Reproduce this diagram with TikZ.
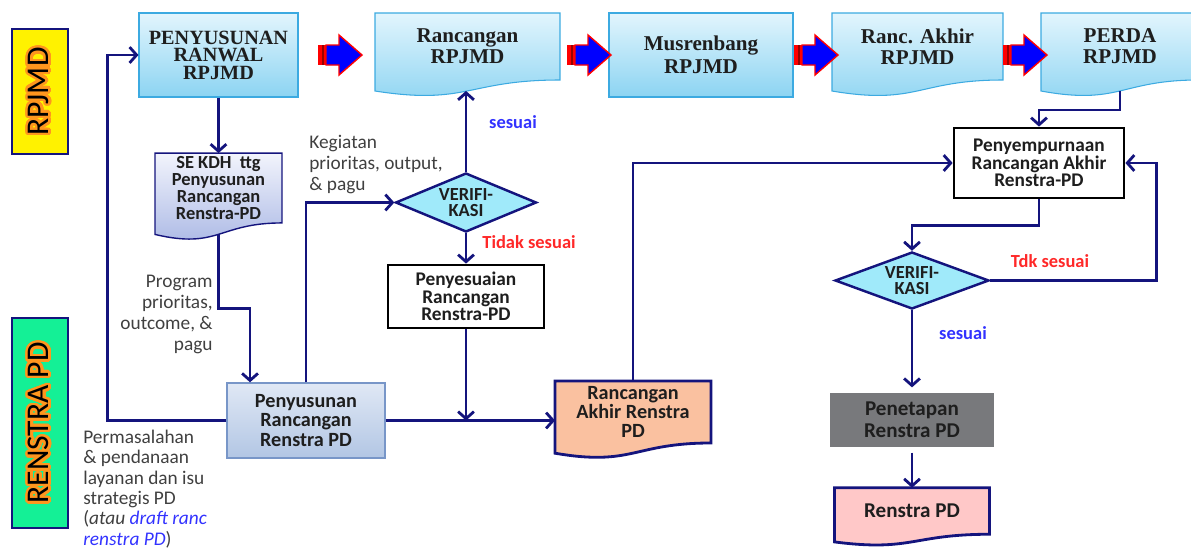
\documentclass[tikz,border=0pt]{standalone}
\usepackage{fontspec}
\setmainfont{Carlito}
\newfontfamily\stagefont{Liberation Serif}
\usepackage[copies]{contour}
\contourlength{1.4pt}
\contournumber{32}
\usetikzlibrary{arrows.meta,shapes.geometric,calc,backgrounds,shadows}

\definecolor{navyline}{RGB}{20,20,125}
\definecolor{skytop}{RGB}{226,245,253}
\definecolor{skybot}{RGB}{140,212,242}
\definecolor{skyedge}{RGB}{60,170,225}
\definecolor{lavtop}{RGB}{242,244,252}
\definecolor{lavbot}{RGB}{168,182,228}
\definecolor{steeltop}{RGB}{224,232,245}
\definecolor{steelbot}{RGB}{178,198,228}
\definecolor{steeledge}{RGB}{120,150,200}
\definecolor{peach}{RGB}{250,193,160}
\definecolor{rosefill}{RGB}{255,200,200}
\definecolor{penegray}{RGB}{120,121,124}
\definecolor{cyanfill}{RGB}{160,234,250}
\definecolor{labelgreen}{RGB}{20,240,150}
\definecolor{glow}{RGB}{255,150,30}
\definecolor{textdark}{RGB}{30,30,30}
\definecolor{notegray}{RGB}{64,64,64}
\definecolor{okblue}{RGB}{50,50,255}
\definecolor{nored}{RGB}{255,40,40}

\tikzset{
  flow/.style={draw=navyline,line width=1.6pt,-{Straight Barb[length=4pt,width=9pt]}},
  sidebox/.style={rectangle,draw=navyline,line width=0.8pt,rotate=90,minimum height=1.12cm,
    font=\fontsize{18}{20}\selectfont,text=black},
  stagebox/.style={rectangle,draw=skyedge,line width=0.6pt,top color=skytop,bottom color=skybot,
    minimum height=1.68cm,inner sep=2pt,align=center,text=textdark,
    font=\stagefont\bfseries\fontsize{12}{12}\selectfont},
  stagedoc/.style={rectangle,minimum height=1.34cm,inner sep=2pt,outer sep=0pt,align=center,
    text=textdark,font=\stagefont\bfseries\fontsize{12}{12}\selectfont},
  notedoc/.style={rectangle,inner sep=2pt,outer sep=0pt,align=center,text=textdark,
    font=\bfseries\fontsize{11.5}{11}\selectfont},
  planbox/.style={rectangle,draw=steeledge,line width=0.8pt,top color=steeltop,bottom color=steelbot,
    align=center,text=textdark,font=\bfseries\fontsize{11.5}{11}\selectfont},
  fixbox/.style={rectangle,draw=black,line width=1.6pt,fill=white,align=center,text=textdark,
    font=\bfseries\fontsize{11}{9.8}\selectfont},
  checkbox/.style={diamond,draw=navyline,line width=1.4pt,fill=cyanfill,inner sep=0pt,align=center,
    text=textdark,font=\bfseries\fontsize{10.5}{9}\selectfont},
  note/.style={inner sep=0pt,text=notegray,font=\fontsize{11}{12}\selectfont},
  oktext/.style={text=okblue,font=\bfseries\fontsize{10.5}{12}\selectfont},
  notext/.style={text=nored,font=\bfseries\fontsize{10.5}{12}\selectfont}
}

% document shape drawn round a node, wave below its south side
\newcommand{\docoutline}[2]{%
  \draw[#2] let \p1=(#1.north), \p2=(#1.south), \n1={(\y1-\y2)/0.802} in
    (#1.north west) -- (#1.north east) -- (#1.south east)
    .. controls (#1.south) and ([yshift=-0.305*\n1]#1.south) .. ([yshift=-0.132*\n1]#1.south west) -- cycle;
  \path let \p1=(#1.north), \p2=(#1.south), \n1={(\y1-\y2)/0.802} in
    ([yshift=-0.131*\n1]#1.south) coordinate (#1-wave);}

\begin{document}
\begin{tikzpicture}[x=0.02cm,y=-0.02cm]
\useasboundingbox (0,0) rectangle (1191,552);

% side labels
\node[sidebox,fill=yellow,minimum width=2.5cm] (rpjmdlab) at (40,91.5) {\contour{glow}{RPJMD}};
\node[sidebox,fill=labelgreen,minimum width=4.2cm] (renstralab) at (40,423) {\contour{glow}{RENSTRA PD}};

% RPJMD row
\node[stagebox,minimum width=3.18cm,font=\stagefont\bfseries\fontsize{11.5}{10}\selectfont] (ranwal) at (218.5,55) {PENYUSUNAN\\RANWAL\\RPJMD};
\node[stagedoc,minimum width=3.7cm] (rancrpjmd) at (467.5,46.5) {Rancangan\\RPJMD};
\node[stagebox,minimum width=3.68cm,font=\stagefont\bfseries\fontsize{12}{13}\selectfont] (musren) at (701,55) {Musrenbang\\RPJMD};
\node[stagedoc,minimum width=3.42cm] (rancakhir) at (917.5,46.5) {Ranc. Akhir\\RPJMD};
\node[stagedoc,minimum width=3.16cm] (perda) at (1120,46.5) {PERDA\\RPJMD};

% Renstra PD flow
\node[notedoc,minimum width=2.54cm,minimum height=1.38cm,font=\bfseries\fontsize{10.5}{9.6}\selectfont] (sekdh) at (218.5,188) {SE KDH\ \ ttg\\Penyusunan\\Rancangan\\Renstra-PD};
\node[planbox,minimum width=3.16cm,minimum height=1.5cm] (penyus) at (306,420.5) {Penyusunan\\Rancangan\\Renstra PD};
\node[checkbox,aspect=2.4,minimum width=2.82cm,minimum height=1.18cm] (verif1) at (466,202.5) {VERIFI-\\KASI};
\node[fixbox,minimum width=3.12cm,minimum height=1.26cm] (penyesuaian) at (466,296.5) {Penyesuaian\\Rancangan\\Renstra-PD};
\node[notedoc,minimum width=3.12cm,minimum height=1.24cm] (rakhirpd) at (633,412) {Rancangan\\Akhir Renstra\\PD};
\node[fixbox,minimum width=3.4cm,minimum height=1.4cm] (penyemp) at (1039,163) {Penyempurnaan\\Rancangan Akhir\\Renstra-PD};
\node[checkbox,aspect=2.7,minimum width=3.08cm,minimum height=1.14cm] (verif2) at (912,280.5) {VERIFI-\\KASI};
\node[rectangle,fill=penegray,draw=white,line width=3pt,drop shadow={opacity=0.3,shadow xshift=1pt,shadow yshift=-1.5pt},
  minimum width=3.4cm,minimum height=1.2cm,align=center,text=textdark,font=\bfseries\fontsize{12}{12.4}\selectfont] (penetapan) at (912,420) {Penetapan\\Renstra PD};
\node[notedoc,minimum width=3.1cm,minimum height=0.93cm,font=\bfseries\fontsize{12}{12}\selectfont] (renstrapd) at (912,511) {Renstra PD};

% notes
\node[note,anchor=east,align=right] (lblprog) at (213,314.5) {Program\\prioritas,\\outcome, \&\\pagu};
\node[note,anchor=west,align=left] (lblkeg) at (309,164.5) {Kegiatan\\prioritas, output,\\\& pagu};
\node[note,anchor=west,align=left,font=\fontsize{11}{11.6}\selectfont] (lblmasalah) at (83,489) {Permasalahan\\\& pendanaan\\layanan dan isu\\strategis PD\\(\textit{atau \textcolor{okblue}{draft ranc}}\\\textit{\textcolor{okblue}{renstra PD}})};
\node[oktext] (ok1) at (513,122) {sesuai};
\node[notext] (no1) at (529,242) {Tidak sesuai};
\node[notext] (no2) at (1050,261) {Tdk sesuai};
\node[oktext] (ok2) at (963,333) {sesuai};

\begin{scope}[on background layer]
\docoutline{rancrpjmd}{draw=skyedge,line width=0.6pt,top color=skytop,bottom color=skybot}
\docoutline{rancakhir}{draw=skyedge,line width=0.6pt,top color=skytop,bottom color=skybot}
\docoutline{perda}{draw=skyedge,line width=0.6pt,top color=skytop,bottom color=skybot}
\docoutline{sekdh}{draw=navyline,line width=0.8pt,top color=lavtop,bottom color=lavbot}
\docoutline{rakhirpd}{draw=navyline,line width=1.6pt,fill=peach}
\docoutline{renstrapd}{draw=navyline,line width=1.6pt,fill=rosefill}
\end{scope}

% block arrows between the stages
\foreach \ax in {318,567,794,1003} {
  \fill[red] (\ax,45) rectangle ++(9,20);
  \draw[red!60!black,line width=0.6pt] (\ax+5,45) -- (\ax+5,65);
  \draw[red,line width=0.8pt,fill=blue] (\ax+8,45) -- (\ax+21,45) -- (\ax+21,35) -- (\ax+44,55)
    -- (\ax+21,75) -- (\ax+21,65) -- (\ax+8,65) -- cycle;
}

% connectors
\draw[flow] (ranwal.south) -- (sekdh.north);
\draw[flow] (sekdh-wave) -- ++(0,74) -| ([xshift=-1.12cm]penyus.north);
\draw[flow] (penyus.west) -- ++(-119,0) |- (ranwal.west);
\draw[flow] (penyus.north) |- (verif1.west);
\draw[flow] (verif1.north) -- (verif1.north |- rancrpjmd-wave);
\draw[flow] (verif1.south) -- (penyesuaian.north);
\draw[flow] (penyesuaian.south) -- (penyesuaian.south |- penyus.east);
\draw[flow] (penyus.east) -- (penyus.east -| rakhirpd.west);
\draw[flow] (rakhirpd.north) |- (penyemp.west);
\draw[flow] (perda-wave) -- ++(0,19) -| (penyemp.north);
\draw[flow] (penyemp.south) -- ++(0,26) -| (verif2.north);
\draw[flow] (verif2.east) -- ++(166,0) |- (penyemp.east);
\draw[flow] (verif2.south) -- (penetapan.north);
\draw[flow] (penetapan.south) -- (renstrapd.north);
\end{tikzpicture}
\end{document}
